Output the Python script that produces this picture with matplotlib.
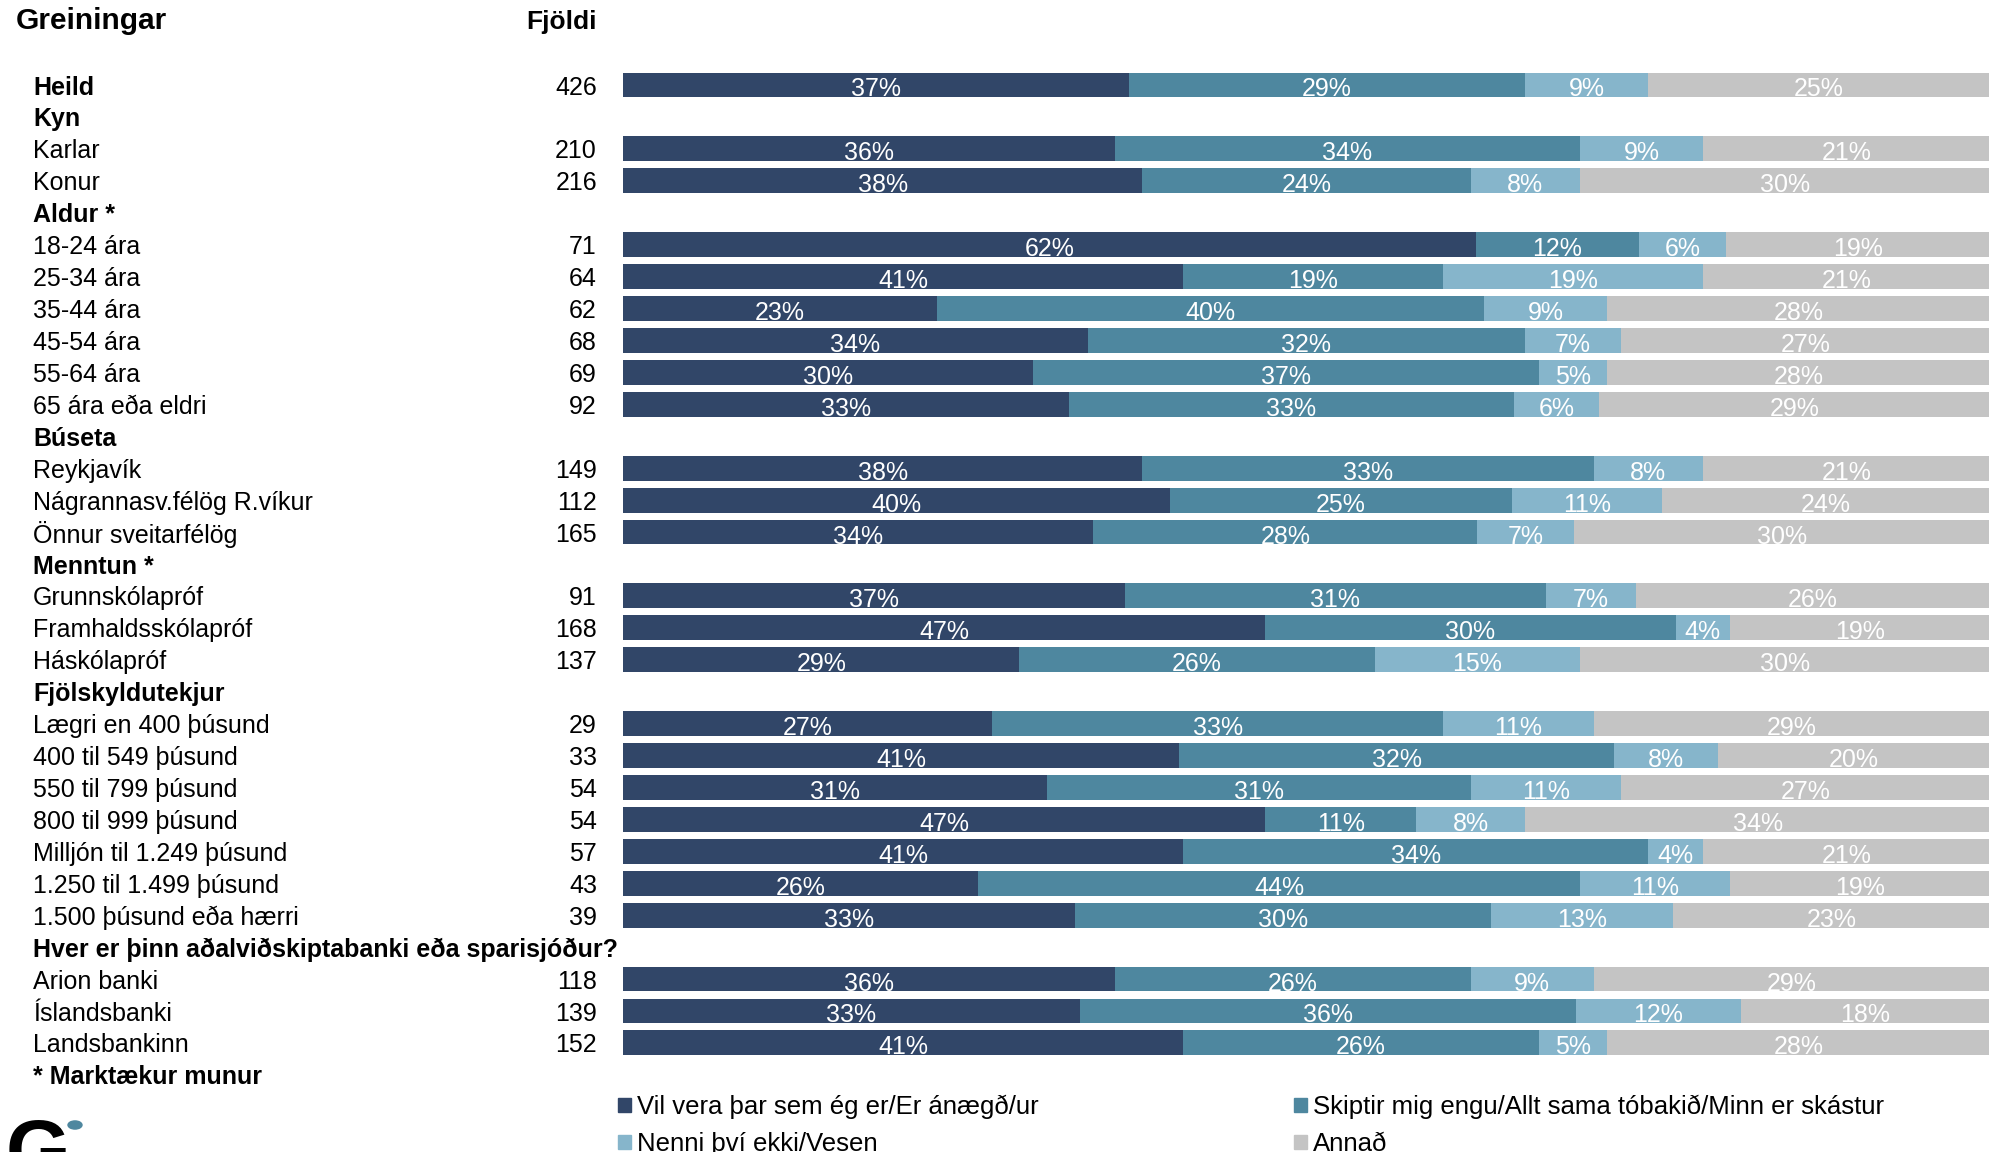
import matplotlib.pyplot as plt
from matplotlib.patches import Rectangle, Circle
from matplotlib.transforms import blended_transform_factory

plt.rcParams['font.family'] = ['Liberation Sans', 'DejaVu Sans']

# row labels, counts (None = group header)
row_labels = ["Heild", "Kyn", "Karlar", "Konur", "Aldur *", "18-24 ára", "25-34 ára",
              "35-44 ára", "45-54 ára", "55-64 ára", "65 ára eða eldri", "Búseta",
              "Reykjavík", "Nágrannasv.félög R.víkur", "Önnur sveitarfélög", "Menntun *",
              "Grunnskólapróf", "Framhaldsskólapróf", "Háskólapróf", "Fjölskyldutekjur",
              "Lægri en 400 þúsund", "400 til 549 þúsund", "550 til 799 þúsund",
              "800 til 999 þúsund", "Milljón til 1.249 þúsund", "1.250 til 1.499 þúsund",
              "1.500 þúsund eða hærri", "Hver er þinn aðalviðskiptabanki eða sparisjóður?",
              "Arion banki", "Íslandsbanki", "Landsbankinn"]
bold_rows = ["Heild", "Kyn", "Aldur *", "Búseta", "Menntun *", "Fjölskyldutekjur",
             "Hver er þinn aðalviðskiptabanki eða sparisjóður?"]
counts = [426, None, 210, 216, None, 71, 64, 62, 68, 69, 92, None, 149, 112, 165, None,
          91, 168, 137, None, 29, 33, 54, 54, 57, 43, 39, None, 118, 139, 152]

vil = [37, None, 36, 38, None, 62.4, 41, 23, 34, 30, 32.6, None, 38, 40, 34.4, None,
       36.7, 47, 29, None, 27, 40.7, 31, 47, 41, 26, 33.1, None, 36, 33.4, 41]
skiptir = [29, None, 34, 24, None, 11.9, 19, 40, 32, 37, 32.6, None, 33, 25, 28.1, None,
           30.8, 30, 26, None, 33, 31.8, 31, 11, 34, 44, 30.4, None, 26, 36.3, 26]
nenni = [9, None, 9, 8, None, 6.4, 19, 9, 7, 5, 6.2, None, 8, 11, 7.1, None,
         6.6, 4, 15, None, 11, 7.6, 11, 8, 4, 11, 13.3, None, 9, 12.1, 5]
annad = [25, None, 21, 30, None, 19.3, 21, 28, 27, 28, 28.6, None, 21, 24, 30.4, None,
         25.9, 19, 30, None, 29, 19.9, 27, 34, 21, 19, 23.2, None, 29, 18.2, 28]

series = [vil, skiptir, nenni, annad]
series_names = ["Vil vera þar sem ég er/Er ánægð/ur",
                "Skiptir mig engu/Allt sama tóbakið/Minn er skástur",
                "Nenni því ekki/Vesen", "Annað"]
colors = ["#314668", "#4e879f", "#86b5cb", "#c4c4c4"]

W, H = 1990, 1152
fig = plt.figure(figsize=(W / 100, H / 100), dpi=100)
x0 = 623 / W
ax = fig.add_axes([x0, 0, 1 - x0, 1])
row0, step = 85, 31.93
ax.set_ylim((H - row0) / step, -row0 / step)
ax.set_xlim(0, 100)
ax.axis('off')

fs = 18
bar_h = 0.78
for i, lab in enumerate(row_labels):
    if vil[i] is None:
        continue
    left = 0
    for vals, c in zip(series, colors):
        v = vals[i]
        ax.barh(i, v, left=left, height=bar_h, color=c, edgecolor='none')
        ax.text(left + v / 2, i + bar_h / 2 - 0.03, f"{round(v)}%", color='white',
                ha='center', va='baseline', fontsize=fs)
        left += v

tr = blended_transform_factory(fig.transFigure, ax.transData)
dy = 0.08
for i, lab in enumerate(row_labels):
    ax.text(33 / W, i + dy, lab, transform=tr, ha='left', va='center', fontsize=fs,
            fontweight='bold' if lab in bold_rows else 'normal')
    if counts[i] is not None:
        ax.text(597 / W, i + dy, str(counts[i]), transform=tr, ha='right', va='center',
                fontsize=fs)
ax.text(33 / W, len(row_labels) + dy, "* Marktækur munur", transform=tr, ha='left',
        va='center', fontsize=fs, fontweight='bold')

# headers
fig.text(16 / W, 1 - 21 / H, "Greiningar", ha='left', va='center', fontsize=21.5,
         fontweight='bold')
fig.text(597 / W, 1 - 22 / H, "Fjöldi", ha='right', va='center', fontsize=19,
         fontweight='bold')

# legend
leg_fs = 18.5
leg_pos = [(618, 1105), (1294, 1105), (618, 1142), (1294, 1142)]
for (px, py), name, c in zip(leg_pos, series_names, colors):
    fig.patches.append(Rectangle((px / W, 1 - (py + 7) / H), 13 / W, 14 / H,
                                 transform=fig.transFigure, color=c))
    fig.text((px + 19) / W, 1 - (py + 2) / H, name, ha='left', va='center',
             fontsize=leg_fs)

# logo
fig.text(6 / W, 1 - 1178 / H, "G", ha='left', va='baseline', fontsize=60,
         fontweight='bold', color='black')
fig.patches.append(Circle((75 / W, 1 - 1125 / H), 7 / W, transform=fig.transFigure,
                          color='#4e879f'))

fig.savefig("out.png", dpi=100)
